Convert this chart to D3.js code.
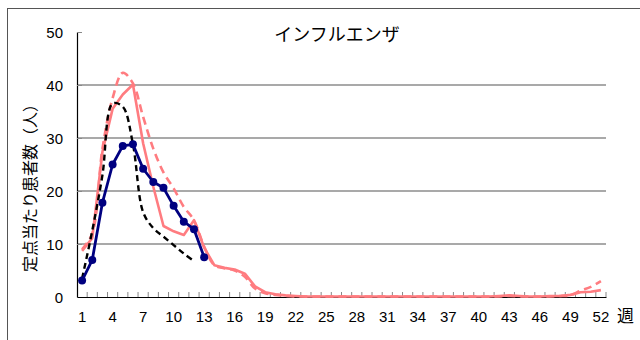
<!DOCTYPE html>
<html><head><meta charset="utf-8">
<script src="https://cdn.jsdelivr.net/npm/d3@7/dist/d3.min.js"></script>
<style>body{margin:0;background:#fff}svg{display:block}</style>
</head><body>
<script>
const weeks = [1,2,3,4,5,6,7,8,9,10,11,12,13,14,15,16,17,18,19,20,21,22,23,24,25,26,27,28,29,30,31,32,33,34,35,36,37,38,39,40,41,42,43,44,45,46,47,48,49,50,51,52];
const tickWeeks = [1,4,7,10,13,16,19,22,25,28,31,34,37,40,43,46,49,52];
const yTicks = [0,10,20,30,40,50];
const title = "インフルエンザ";
const yTitle = "定点当たり患者数（人）";
const xUnit = "週";

// current season (navy, markers)
const currentSeason = [3.1,7.0,17.8,25.0,28.5,28.8,24.2,21.7,20.6,17.2,14.2,12.8,7.5];
// black dashed
const seasonBlack = [3.5,12.5,23.0,36.5,35.9,28.8,16.0,13.0,11.4,9.8,8.2,6.8];
// pink solid
const seasonPinkSolid = [8.7,11.1,27.4,35.5,38.2,40.1,29.0,20.8,13.4,12.4,11.7,14.5,9.3,6.0,5.5,5.2,4.4,2.0,0.9,0.5,0.3,0.2,0.1,0.1,0.1,0.1,0.1,0.1,0.1,0.1,0.1,0.1,0.1,0.1,0.1,0.1,0.1,0.1,0.1,0.1,0.1,0.2,0.3,0.2,0.1,0.1,0.2,0.2,0.4,0.9,1.0,1.3];
// pink dashed
const seasonPinkDashed = [9.0,12.0,28.0,37.5,42.3,40.3,34.0,28.0,23.5,20.5,17.0,14.5,9.5,6.0,5.4,5.0,3.8,1.6,0.7,0.4,0.2,0.1,0.1,0.1,0.1,0.1,0.1,0.1,0.1,0.1,0.1,0.1,0.1,0.1,0.1,0.1,0.1,0.1,0.1,0.1,0.1,0.1,0.2,0.1,0.1,0.1,0.1,0.2,0.3,1.2,1.9,3.0];

const W = 640, H = 340;
const svg = d3.select("body").append("svg").attr("width", W).attr("height", H);
const pL = 77, pR = 606, pT = 32, pB = 297;

const x = d3.scaleBand().domain(weeks).range([pL, pR]).padding(0);
const y = d3.scaleLinear().domain([0, 50]).range([pB, pT]);
const cx = w => x(w) + x.bandwidth() / 2;

// frame
svg.append("rect").attr("x", 7.5).attr("y", 8.5).attr("width", 700).attr("height", 400)
  .attr("fill", "none").attr("stroke", "#555").attr("stroke-width", 1);

// gridlines
svg.append("g").selectAll("line").data(yTicks.filter(d => d > 0 && d < 50)).join("line")
  .attr("x1", pL).attr("x2", pR).attr("y1", d => y(d)).attr("y2", d => y(d))
  .attr("stroke", "#8c8c8c").attr("stroke-width", 1.3);

// y axis
const yAxis = svg.append("g").attr("transform", `translate(${pL},0)`)
  .call(d3.axisRight(y).tickValues(yTicks).tickSize(5).tickSizeOuter(0).tickFormat(""));
yAxis.select(".domain").attr("stroke", "#000").attr("stroke-width", 1.2);
yAxis.selectAll(".tick line").attr("stroke", "#888");
svg.append("g").selectAll("text").data(yTicks).join("text")
  .attr("x", 63).attr("y", d => y(d) + 5.5).attr("text-anchor", "end")
  .attr("font-family", "Liberation Sans, Arial, sans-serif").attr("font-size", 15)
  .text(d => d);

// x axis
const xAxis = svg.append("g").attr("transform", `translate(0,${pB})`)
  .call(d3.axisBottom(x).tickValues([]).tickSizeOuter(0));
xAxis.select(".domain").attr("stroke", "#000").attr("stroke-width", 1.2);
svg.append("g").selectAll("line").data(weeks.slice(1).concat(["end"])).join("line")
  .attr("x1", d => d === "end" ? pR : x(d)).attr("x2", d => d === "end" ? pR : x(d))
  .attr("y1", pB).attr("y2", pB - 5)
  .attr("stroke", "#888").attr("stroke-width", 1);
svg.append("g").selectAll("text").data(tickWeeks).join("text")
  .attr("x", d => cx(d)).attr("y", 322).attr("text-anchor", "middle")
  .attr("font-family", "Liberation Sans, Arial, sans-serif").attr("font-size", 15)
  .text(d => d);
svg.append("text").attr("x", 617).attr("y", 322)
  .attr("font-family", "Noto Sans CJK JP, sans-serif").attr("font-size", 17).text(xUnit);

// titles
svg.append("text").attr("x", 337).attr("y", 41).attr("text-anchor", "middle")
  .attr("font-family", "Noto Sans CJK JP, sans-serif").attr("font-size", 18).text(title);
svg.append("text").attr("transform", "translate(36,184) rotate(-90)").attr("text-anchor", "middle")
  .attr("font-family", "Noto Sans CJK JP, sans-serif").attr("font-size", 16).text(yTitle);

const g = svg.append("g");
const lineL = d3.line().x((d, i) => cx(weeks[i])).y(d => y(d));
const lineS = d3.line().x((d, i) => cx(weeks[i])).y(d => y(d)).curve(d3.curveCatmullRom.alpha(0.5));

g.append("path").datum(seasonPinkDashed).attr("d", lineS).attr("fill", "none")
  .attr("stroke", "#ff7c80").attr("stroke-width", 2.6).attr("stroke-dasharray", "8,5");
g.append("path").datum(seasonPinkSolid).attr("d", lineL).attr("fill", "none")
  .attr("stroke", "#ff7c80").attr("stroke-width", 2.6).attr("stroke-linejoin", "round");
g.append("path").datum(seasonBlack).attr("d", lineS).attr("fill", "none")
  .attr("stroke", "#000").attr("stroke-width", 2.4).attr("stroke-dasharray", "6,4");
g.append("path").datum(currentSeason).attr("d", lineL).attr("fill", "none")
  .attr("stroke", "#000080").attr("stroke-width", 2.8).attr("stroke-linejoin", "round");
g.append("g").selectAll("circle").data(currentSeason).join("circle")
  .attr("cx", (d, i) => cx(weeks[i])).attr("cy", d => y(d)).attr("r", 4)
  .attr("fill", "#000080");
</script>
</body></html>
